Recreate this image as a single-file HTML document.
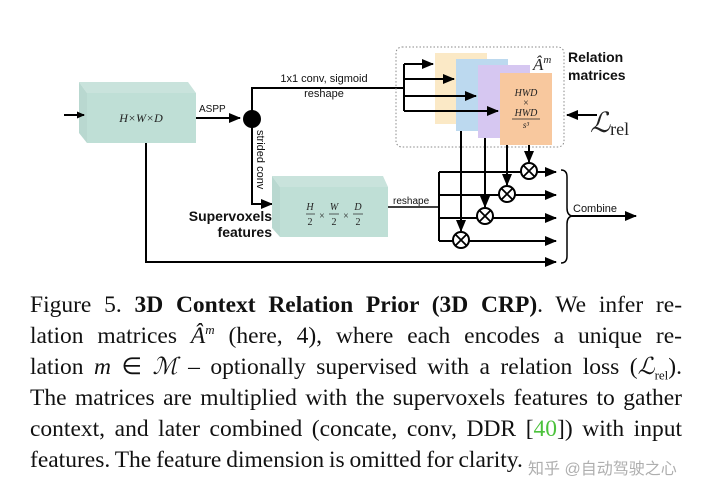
<!DOCTYPE html>
<html><head><meta charset="utf-8"><style>
body{margin:0;width:712px;height:493px;background:#fff;overflow:hidden;position:relative}
svg{position:absolute;left:0;top:0}
.cap{position:absolute;left:30px;width:652px;font-family:"Liberation Serif",serif;font-size:23.5px;color:#111;text-align:justify;text-align-last:justify;white-space:nowrap;line-height:26px;height:26px;word-spacing:-1px}
.cap sup,.cap sub{line-height:0}
</style></head><body>
<svg width="712" height="493" viewBox="0 0 712 493">
<defs><marker id="a" markerWidth="8" markerHeight="8" refX="7" refY="4" orient="auto" markerUnits="userSpaceOnUse"><path d="M0,0.5 L8,4 L0,7.5 z" fill="#000"/></marker>
<marker id="b" markerWidth="12" markerHeight="10" refX="11" refY="5" orient="auto" markerUnits="userSpaceOnUse"><path d="M0,0 L12,5 L0,10 z" fill="#000"/></marker></defs>
<g stroke="#000" stroke-width="2" fill="none">
<polygon points="79,82 188,82 196,93 87,93" fill="#c9e3dc" stroke="none"/>
<polygon points="79,82 87,93 87,143 79,133" fill="#b9d8d0" stroke="none"/>
<rect x="87" y="93" width="109" height="50" fill="#bfdfd6" stroke="none"/>
<line x1="64" y1="115" x2="84" y2="115" marker-end="url(#a)"/>
<line x1="196" y1="118" x2="240" y2="118" marker-end="url(#b)"/>
<circle cx="252" cy="119" r="9" fill="#000" stroke="none"/>
<polyline points="252,119 252,88 404,88"/>
<polyline points="252,119 252,204 272,204" marker-end="url(#b)"/>
<polygon points="272,176 383,176 388,187 280,187" fill="#c9e3dc" stroke="none"/>
<polygon points="272,176 280,187 280,237 272,228" fill="#b9d8d0" stroke="none"/>
<rect x="280" y="187" width="108" height="50" fill="#bfdfd6" stroke="none"/>
<polyline points="146,143 146,262 556,262" marker-end="url(#b)"/>
<rect x="396" y="47" width="168" height="100" rx="6" stroke="#888" stroke-width="1" stroke-dasharray="1.5,2"/>
<rect x="435" y="53" width="52" height="71" fill="#fbe9c6" stroke="none"/>
<rect x="456" y="59" width="52" height="72" fill="#bcd9ef" stroke="none"/>
<rect x="478" y="65" width="52" height="73" fill="#d6c7f1" stroke="none"/>
<rect x="500" y="73" width="52" height="72" fill="#f8c89e" stroke="none"/>
<polyline points="404,64 404,111"/>
<line x1="404" y1="64" x2="433" y2="64" marker-end="url(#b)"/>
<line x1="404" y1="79" x2="454" y2="79" marker-end="url(#b)"/>
<line x1="404" y1="96" x2="476" y2="96" marker-end="url(#b)"/>
<line x1="404" y1="111" x2="498" y2="111" marker-end="url(#b)"/>
<line x1="597" y1="115" x2="567" y2="115" marker-end="url(#b)"/>
<line x1="461" y1="131" x2="461" y2="231" marker-end="url(#b)"/>
<line x1="485" y1="138" x2="485" y2="207" marker-end="url(#b)"/>
<line x1="507" y1="145" x2="507" y2="185" marker-end="url(#b)"/>
<line x1="529" y1="145" x2="529" y2="162" marker-end="url(#b)"/>
<line x1="388" y1="207" x2="439" y2="207" stroke-width="1.5"/>
<line x1="439" y1="172" x2="439" y2="241"/>
<line x1="439" y1="172" x2="556" y2="172" marker-end="url(#b)"/>
<line x1="439" y1="195" x2="556" y2="195" marker-end="url(#b)"/>
<line x1="439" y1="218" x2="556" y2="218" marker-end="url(#b)"/>
<line x1="439" y1="241" x2="556" y2="241" marker-end="url(#b)"/>
<g fill="#fff">
<circle cx="529" cy="171" r="8"/><circle cx="507" cy="194" r="8"/><circle cx="485" cy="216" r="8"/><circle cx="461" cy="240" r="8"/>
</g>
<g stroke-width="1.8">
<path d="M523.5,165.5 L534.5,176.5 M534.5,165.5 L523.5,176.5"/>
<path d="M501.5,188.5 L512.5,199.5 M512.5,188.5 L501.5,199.5"/>
<path d="M479.5,210.5 L490.5,221.5 M490.5,210.5 L479.5,221.5"/>
<path d="M455.5,234.5 L466.5,245.5 M466.5,234.5 L455.5,245.5"/>
</g>
<path d="M561,170 Q567,170 567,177 L567,208 Q567,215 572,216 Q567,217 567,224 L567,256 Q567,263 561,263" stroke-width="1.5"/>
<line x1="572" y1="216" x2="636" y2="216" marker-end="url(#b)"/>
</g>
<g font-family="Liberation Sans,sans-serif" fill="#111">
<text x="324" y="82" font-size="11" text-anchor="middle">1x1 conv, sigmoid</text>
<text x="324" y="97" font-size="11" text-anchor="middle">reshape</text>
<text x="199" y="112" font-size="10">ASPP</text>
<text transform="translate(257,130) rotate(90)" font-size="11">strided conv</text>
<text x="272" y="221" font-size="14" font-weight="bold" text-anchor="end">Supervoxels</text>
<text x="272" y="237" font-size="14" font-weight="bold" text-anchor="end">features</text>
<text x="393" y="204" font-size="10">reshape</text>
<text x="568" y="62" font-size="14" font-weight="bold">Relation</text>
<text x="568" y="80" font-size="14" font-weight="bold">matrices</text>
<text x="573" y="212" font-size="11">Combine</text>
</g>
<g font-family="Liberation Serif,serif" fill="#222">
<text x="141" y="122" font-size="12" font-style="italic" text-anchor="middle">H×W×D</text>
<g font-size="10" text-anchor="middle">
<text x="310" y="210" font-style="italic">H</text><text x="310" y="225">2</text>
<text x="334" y="210" font-style="italic">W</text><text x="334" y="225">2</text>
<text x="358" y="210" font-style="italic">D</text><text x="358" y="225">2</text>
<text x="322" y="219">×</text><text x="346" y="219">×</text>
</g>
<g stroke="#222" stroke-width="0.7"><line x1="306" y1="214" x2="315" y2="214"/><line x1="329" y1="214" x2="339" y2="214"/><line x1="353" y1="214" x2="363" y2="214"/></g>
<text x="526" y="96" font-size="10" font-style="italic" text-anchor="middle">HWD</text>
<text x="526" y="106" font-size="10" text-anchor="middle">×</text>
<text x="526" y="116" font-size="10" font-style="italic" text-anchor="middle">HWD</text>
<line x1="512" y1="119" x2="540" y2="119" stroke="#222" stroke-width="0.8"/>
<text x="526" y="128" font-size="9" font-style="italic" text-anchor="middle">s³</text>
<text x="533" y="70" font-size="17" font-style="italic">Â<tspan font-size="11" dy="-7">m</tspan></text>
<text x="590" y="132" font-size="28" font-style="italic">ℒ<tspan font-size="18" font-style="normal" dy="3">rel</tspan></text>
</g>
</svg>
<div class="cap" style="top:292px">Figure 5. <b>3D Context Relation Prior (3D CRP)</b>. We infer re-</div>
<div class="cap" style="top:323px">lation matrices <i>Â<sup style="font-size:13px">m</sup></i> (here, 4), where each encodes a unique re-</div>
<div class="cap" style="top:354px">lation <i>m</i> ∈ <i>ℳ</i> – optionally supervised with a relation loss (<i>ℒ</i><sub style="font-size:13px">rel</sub>).</div>
<div class="cap" style="top:385px">The matrices are multiplied with the supervoxels features to gather</div>
<div class="cap" style="top:416px">context, and later combined (concate, conv, DDR [<span style="color:#4cc23c">40</span>]) with input</div>
<div class="cap" style="top:447px;text-align-last:left">features. The feature dimension is omitted for clarity.</div>
<div style="position:absolute;left:528px;top:455px;font-family:'Liberation Sans','Noto Sans CJK SC',sans-serif;font-size:16px;color:rgba(120,120,120,0.6)">知乎 @自动驾驶之心</div>
</body></html>
